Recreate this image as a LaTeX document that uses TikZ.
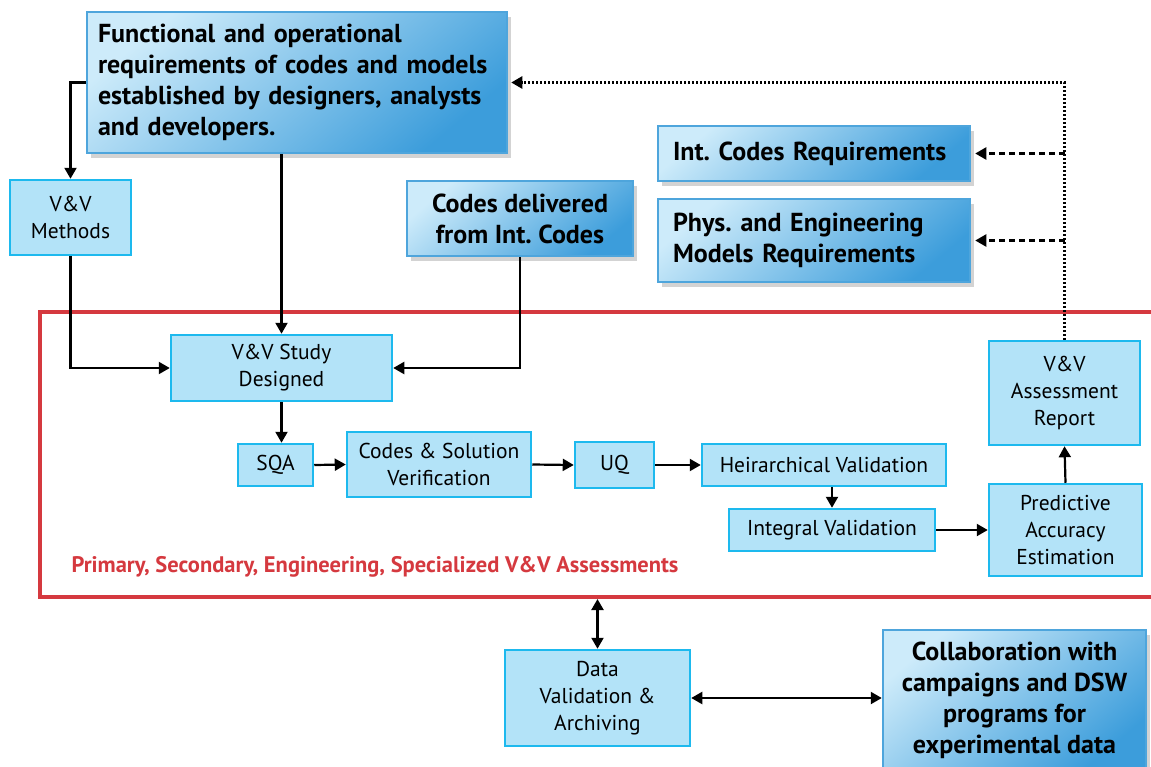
\documentclass[tikz,border=0pt]{standalone}
\usepackage{fontspec}
\setmainfont{PT Sans}
\frenchspacing
\usetikzlibrary{arrows.meta,shadows}

\definecolor{boxfill}{HTML}{B3E3F8}
\definecolor{boxline}{HTML}{1DB9EE}
\definecolor{deeplight}{HTML}{CDEBFA}
\definecolor{deepdark}{HTML}{3C9DDB}
\definecolor{deepline}{HTML}{4EA5DC}
\definecolor{vvred}{HTML}{D5393F}

\tikzset{
    >={Triangle[length=11pt,width=12pt]},
    stagebox/.style={draw=boxline, fill=boxfill, line width=2.5pt, align=center,
        inner sep=2pt, font=\fontsize{21.5}{27}\selectfont},
    inputbox/.style={draw=deepline, line width=2.5pt, top color=deeplight, bottom color=deepdark,
        shading angle=40, drop shadow={shadow xshift=4pt, shadow yshift=-5pt, opacity=.35},
        font=\bfseries\fontsize{26}{31}\selectfont},
    flow/.style={->, line width=2.2pt},
    report/.style={->, line width=2.4pt, dash pattern=on 2pt off 2pt},
    feedback/.style={->, line width=2.2pt, dash pattern=on 6pt off 4pt, shorten >=4pt},
}

\begin{document}
\begin{tikzpicture}[x=1pt, y=-1pt]
    \useasboundingbox (0,0) rectangle (1151,766);
    % assessment frame
    \node[draw=vvred, line width=4pt, minimum width=1125pt, minimum height=285pt, inner sep=0pt] (frame) at (602.5,454.5) {};
    \node[anchor=west, text=vvred, font=\bfseries\fontsize{22.5}{26}\selectfont] (assess) at (68,567) {Primary, Secondary, Engineering, Specialized V\&V Assessments};

    % inputs
    \node[inputbox, minimum height=141pt, text width=398pt, align=left, inner xsep=11pt] (func) at (297,82.5)
        {Functional and operational\\requirements of codes and models\\established by designers, analysts\\and developers.};
    \node[inputbox, minimum width=226pt, minimum height=75pt, align=center] (codes) at (520,218.5) {Codes delivered\\from Int. Codes};
    \node[inputbox, minimum height=55pt, text width=282pt, align=left, inner xsep=15pt] (intc) at (814,153.5) {Int. Codes Requirements};
    \node[inputbox, minimum height=83pt, text width=282pt, align=left, inner xsep=15pt] (phys) at (814,240.5) {Phys. and Engineering\\Models Requirements};
    \node[inputbox, minimum width=263pt, minimum height=140pt, align=center] (collab) at (1014.5,700)
        {Collaboration with\\campaigns and DSW\\programs for\\experimental data};

    % stages
    \node[stagebox, minimum width=121pt, minimum height=75pt] (vvm) at (70.5,217.5) {V\&V\\Methods};
    \node[stagebox, minimum width=221pt, minimum height=66pt] (vvsd) at (281.5,368) {V\&V Study\\Designed};
    \node[stagebox, minimum width=75pt, minimum height=42pt] (sqa) at (275.5,465) {SQA};
    \node[stagebox, minimum width=184pt, minimum height=65pt] (csv) at (439,464.5) {Codes \& Solution\\Verification};
    \node[stagebox, minimum width=79pt, minimum height=46pt] (uq) at (614.5,465) {UQ};
    \node[stagebox, minimum width=244pt, minimum height=42pt] (hv) at (824,465) {Heirarchical Validation};
    \node[stagebox, minimum width=206pt, minimum height=42pt] (iv) at (832,530) {Integral Validation};
    \node[stagebox, minimum width=153pt, minimum height=92pt] (pae) at (1065.5,530) {Predictive\\Accuracy\\Estimation};
    \node[stagebox, minimum width=151pt, minimum height=104pt] (vvar) at (1064.5,393) {V\&V\\Assessment\\Report};
    \node[stagebox, minimum width=185pt, minimum height=96pt] (dva) at (597.5,698) {Data\\Validation \&\\Archiving};

    % connectors
    \draw[flow] (func.west) -| (vvm.north);
    \draw[flow] (func.south -| vvsd.north) -- (vvsd.north);
    \draw[flow] (vvm.south) |- (vvsd.west);
    \draw[flow] (codes.south) |- (vvsd.east);
    \draw[flow] (vvsd.south) -- (vvsd.south |- sqa.north);
    \draw[flow] (sqa.east) -- (csv.west);
    \draw[flow] (csv.east) -- (uq.west);
    \draw[flow] (uq.east) -- (hv.west);
    \draw[flow] (hv.south -| iv.north) -- (iv.north);
    \draw[flow] (iv.east) -- (pae.west);
    \draw[flow] (pae.north) -- (vvar.south);
    \draw[<->, line width=2.2pt] (frame.south -| dva.north) -- (dva.north);
    \draw[<->, line width=2.2pt] (dva.east) -- (dva.east -| collab.west);

    % feedback of the report
    \draw[report, shorten >=3pt] (vvar.north) |- (func.east);
    \coordinate (jc) at (vvar.north |- intc.east);
    \coordinate (jp) at (vvar.north |- phys.east);
    \draw[feedback] (jc) -- (intc.east);
    \draw[feedback] (jp) -- (phys.east);
\end{tikzpicture}
\end{document}
